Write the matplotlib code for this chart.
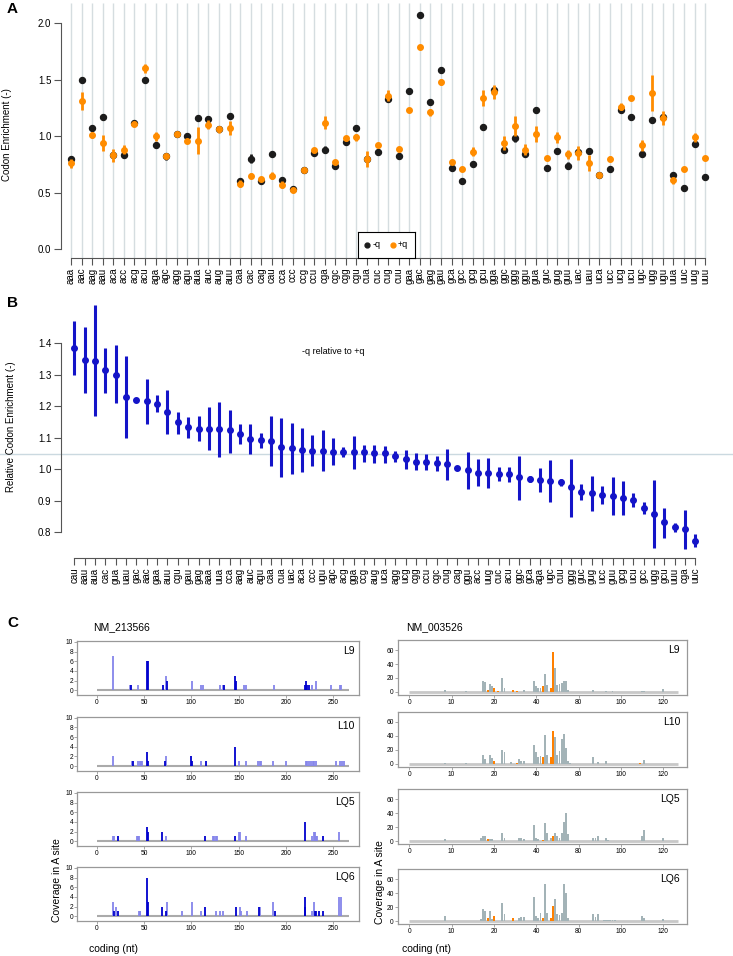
import matplotlib
matplotlib.use('Agg')
import matplotlib.pyplot as plt
import matplotlib.transforms as mtrans

plt.rcParams['font.family'] = ['Liberation Sans', 'DejaVu Sans']

# ---- panel A: codon enrichment, -q vs +q ----
codons_a = ['aaa', 'aac', 'aag', 'aau', 'aca', 'acc', 'acg', 'acu', 'aga', 'agc', 'agg', 'agu',
            'aua', 'auc', 'aug', 'auu', 'caa', 'cac', 'cag', 'cau', 'cca', 'ccc', 'ccg', 'ccu',
            'cga', 'cgc', 'cgg', 'cgu', 'cua', 'cuc', 'cug', 'cuu', 'gaa', 'gac', 'gag', 'gau',
            'gca', 'gcc', 'gcg', 'gcu', 'gga', 'ggc', 'ggg', 'ggu', 'gua', 'guc', 'gug', 'guu',
            'uac', 'uau', 'uca', 'ucc', 'ucg', 'ucu', 'ugc', 'ugg', 'ugu', 'uua', 'uuc', 'uug', 'uuu']
minus_q = [0.80, 1.50, 1.07, 1.17, 0.83, 0.83, 1.12, 1.50, 0.92, 0.82, 1.02, 1.00,
           1.16, 1.15, 1.06, 1.18, 0.60, 0.80, 0.60, 0.84, 0.61, 0.53, 0.70, 0.85,
           0.88, 0.74, 0.95, 1.07, 0.80, 0.86, 1.33, 0.82, 1.40, 2.07, 1.30, 1.59,
           0.72, 0.60, 0.75, 1.08, 1.41, 0.88, 0.98, 0.84, 1.23, 0.72, 0.87, 0.74,
           0.86, 0.87, 0.66, 0.71, 1.23, 1.17, 0.84, 1.14, 1.17, 0.66, 0.54, 0.93, 0.64]
minus_q_err = [.01, .01, .01, .01, .01, .01, .01, .01, .01, .03, .01, .01,
               .01, .01, .01, .01, .01, .04, .01, .02, .01, .01, .01, .01,
               .03, .01, .01, .01, .01, .01, .02, .01, .01, .01, .01, .01,
               .01, .01, .01, .01, .02, .01, .03, .01, .01, .01, .01, .03,
               .01, .01, .01, .01, .01, .02, .01, .02, .01, .01, .01, .01, .01]
plus_q = [0.76, 1.31, 1.01, 0.94, 0.83, 0.88, 1.11, 1.60, 1.00, 0.82, 1.02, 0.96,
          0.96, 1.10, 1.06, 1.07, 0.58, 0.65, 0.62, 0.65, 0.57, 0.52, 0.70, 0.88,
          1.12, 0.77, 0.98, 0.99, 0.80, 0.92, 1.36, 0.89, 1.23, 1.79, 1.21, 1.48,
          0.77, 0.71, 0.86, 1.34, 1.39, 0.94, 1.09, 0.88, 1.02, 0.81, 0.99, 0.84,
          0.85, 0.76, 0.66, 0.80, 1.26, 1.34, 0.92, 1.38, 1.16, 0.61, 0.71, 0.99, 0.81]
plus_q_err = [.04, .08, .03, .07, .06, .04, .01, .04, .04, .01, .01, .01,
              .12, .04, .03, .06, .03, .02, .01, .03, .03, .01, .01, .01,
              .06, .01, .02, .03, .07, .01, .05, .01, .02, .01, .03, .03,
              .01, .01, .04, .07, .06, .06, .09, .05, .07, .01, .05, .04,
              .06, .07, .01, .02, .03, .01, .05, .16, .06, .03, .01, .04, .01]

# ---- panel B: relative enrichment, sorted ----
codons_b = ['cau', 'aau', 'aua', 'cac', 'gua', 'uau', 'gac', 'aac', 'gaa', 'auu', 'cgu', 'gau',
            'gag', 'aaa', 'uua', 'cca', 'aag', 'auc', 'agu', 'caa', 'cua', 'uac', 'aca', 'ccc',
            'ugu', 'agc', 'acg', 'gga', 'ccg', 'aug', 'uca', 'agg', 'ucg', 'cgg', 'ccu', 'cgc',
            'cug', 'cag', 'ggu', 'acc', 'uug', 'cuc', 'acu', 'ggc', 'gca', 'aga', 'ugc', 'cuu',
            'ggg', 'guc', 'gug', 'ucc', 'guu', 'gcg', 'ucu', 'gcc', 'ugg', 'gcu', 'uuu', 'cga', 'uuc']
rel = [1.386, 1.347, 1.344, 1.315, 1.300, 1.230, 1.220, 1.215, 1.206, 1.180, 1.149, 1.134,
       1.129, 1.129, 1.126, 1.123, 1.111, 1.095, 1.092, 1.090, 1.070, 1.068, 1.061, 1.059,
       1.058, 1.056, 1.055, 1.053, 1.053, 1.050, 1.050, 1.043, 1.032, 1.024, 1.024, 1.019,
       1.016, 1.005, 0.996, 0.989, 0.989, 0.985, 0.984, 0.974, 0.968, 0.965, 0.964, 0.959,
       0.942, 0.928, 0.924, 0.917, 0.915, 0.908, 0.903, 0.877, 0.859, 0.831, 0.815, 0.810, 0.772]
rel_lo = [1.300, 1.243, 1.170, 1.241, 1.210, 1.098, 1.220, 1.144, 1.180, 1.111, 1.113, 1.100,
          1.089, 1.061, 1.038, 1.051, 1.079, 1.049, 1.067, 1.011, 0.975, 0.985, 0.990, 1.011,
          0.993, 1.013, 1.040, 1.000, 1.024, 1.019, 1.018, 1.024, 1.000, 0.996, 0.997, 0.993,
          0.966, 1.005, 0.938, 0.945, 0.941, 0.962, 0.958, 0.903, 0.959, 0.926, 0.895, 0.948,
          0.849, 0.903, 0.868, 0.888, 0.853, 0.853, 0.881, 0.858, 0.751, 0.783, 0.799, 0.748, 0.754]
rel_hi = [1.470, 1.450, 1.520, 1.385, 1.393, 1.358, 1.220, 1.286, 1.234, 1.250, 1.183, 1.167,
          1.169, 1.196, 1.212, 1.188, 1.144, 1.142, 1.116, 1.169, 1.164, 1.148, 1.132, 1.108,
          1.123, 1.100, 1.069, 1.104, 1.078, 1.077, 1.075, 1.058, 1.060, 1.051, 1.049, 1.042,
          1.063, 1.005, 1.053, 1.032, 1.034, 1.006, 1.008, 1.042, 0.979, 1.005, 1.030, 0.968,
          1.032, 0.952, 0.977, 0.947, 0.975, 0.962, 0.924, 0.897, 0.965, 0.878, 0.829, 0.871, 0.793]
rel_ref = 1.049

# ---- panel C: A-site coverage, (position, count) ----
samples = ['L9', 'L10', 'LQ5', 'LQ6']
nm1_dark = [
    [(36.6, 1), (53.5, 6), (54.5, 6), (70.4, 1), (74.3, 2), (134.9, 1), (146.5, 3), (147.5, 2),
     (219.7, 1), (220.8, 2), (222.5, 1), (224, 1)],
    [(38.7, 1), (53.2, 3), (54.6, 1), (71.8, 1), (100, 2), (101, 1), (115.8, 1), (146.5, 4)],
    [(22.2, 1), (53.5, 3), (54.6, 2), (69.4, 2), (114.8, 1), (146.5, 1), (220.4, 4), (239.4, 1)],
    [(18, 1), (22.9, 1), (53.5, 8), (54.6, 3), (69.4, 2), (72.9, 1), (114.8, 2), (147.5, 2),
     (171.5, 2), (188, 1), (219.7, 2), (220.4, 4), (230.6, 1), (231.7, 1), (234.5, 1), (239.4, 1)],
]
nm1_light = [
    [(16.9, 7), (34.9, 1), (43.7, 1), (72.9, 3), (101, 2), (110, 1), (112.7, 1), (130.6, 1),
     (133.5, 1), (155.3, 1), (158, 1), (187, 1), (227.5, 1), (231.3, 2), (247, 1), (257, 1), (258.5, 1)],
    [(16.9, 2), (37, 1), (44, 1), (45.2, 1), (46.4, 1), (47.5, 1), (73.2, 2), (110, 1), (150.4, 1),
     (158, 1), (170.8, 1), (172, 1), (173.2, 1), (186.6, 1), (199.6, 1), (220.8, 1), (222.5, 1),
     (224.6, 1), (226.7, 1), (228.1, 1), (229.5, 1), (231.3, 1), (253, 1), (257, 1), (258.8, 1), (261, 1)],
    [(16.9, 1), (18, 1), (42.6, 1), (43.7, 1), (44.7, 1), (73.2, 1), (123, 1), (124.3, 1), (125.5, 1),
     (126.8, 1), (150.7, 2), (151.8, 2), (157.4, 1), (227.8, 1), (229.6, 2), (230.6, 2), (231.5, 1),
     (232.4, 1), (256, 2)],
    [(16.9, 3), (20.8, 2), (44.4, 1), (45.2, 1), (46, 1), (73.9, 3), (89.8, 1), (101, 3), (110, 1),
     (125.7, 1), (130, 1), (133.5, 1), (151, 2), (152.8, 1), (158.5, 1), (172.5, 2), (186.6, 3),
     (227.8, 1), (229.6, 3), (256, 4), (257.7, 4)],
]
nm2_gray = [
    [(17, 3), (27, 2), (35, 16), (36, 14), (38, 12), (39, 8), (44, 20), (45, 6), (54, 3), (59, 15),
     (60, 8), (61, 6), (62, 5), (64, 26), (65, 10), (69, 34), (70, 10), (71, 12), (72, 13), (73, 16),
     (74, 16), (75, 3), (87, 3), (93, 1), (96, 1), (110, 1), (111, 2), (120, 4)],
    [(17, 1), (27, 1), (35, 13), (36, 7), (38, 13), (39, 8), (44, 19), (45, 16), (48, 3), (52, 6),
     (53, 4), (54, 4), (59, 26), (60, 17), (61, 10), (62, 11), (64, 41), (65, 12), (69, 38), (70, 12),
     (71, 18), (72, 36), (73, 42), (74, 22), (75, 4), (76, 1), (87, 10), (89, 2), (93, 4), (111, 5)],
    [(17, 3), (21, 1), (34, 4), (35, 8), (36, 8), (38, 3), (39, 3), (44, 12), (45, 4), (52, 5),
     (53, 4), (54, 3), (59, 23), (60, 5), (61, 3), (64, 26), (65, 12), (67, 4), (69, 12), (70, 8),
     (71, 5), (72, 12), (73, 28), (74, 41), (75, 10), (87, 5), (88, 4), (89, 8), (93, 4), (94, 2),
     (96, 1), (97, 1), (110, 8), (111, 16), (120, 4)],
    [(15, 1), (17, 7), (22, 1), (27, 1), (34, 3), (35, 18), (36, 15), (38, 15), (39, 3), (44, 26),
     (45, 11), (52, 4), (53, 6), (54, 6), (59, 35), (60, 7), (61, 5), (62, 12), (64, 53), (65, 12),
     (69, 32), (70, 11), (71, 9), (72, 12), (73, 53), (74, 41), (75, 5), (87, 10), (88, 6), (89, 10),
     (92, 2), (93, 2), (94, 2), (95, 2), (96, 2), (97, 2), (110, 8), (111, 5), (120, 3)],
]
nm2_orange = [
    [(37, 3), (40, 5), (42, 2), (49, 3), (51, 2), (63, 8), (67, 5), (68, 57)],
    [(40, 4), (51, 1), (63, 9), (67, 9), (68, 47), (109, 1)],
    [(37, 3), (48, 1), (63, 2), (68, 8), (109, 1)],
    [(37, 4), (40, 8), (49, 4), (51, 1), (63, 4), (67, 5), (68, 22), (121, 1)],
]
nm2_xticklabels = ['0', '10', '20', '40', '80', '100', '120']

W, H = 733, 956
fig = plt.figure(figsize=(W / 100, H / 100), dpi=100)


def add_box(l, t, r, b):
    # axes from pixel edges
    return fig.add_axes([l / W, 1 - b / H, (r - l) / W, (b - t) / H])


def ftext(px, py, s, **kw):
    fig.text(px / W, 1 - py / H, s, **kw)


axis_col = '#555555'

# ---------- A ----------
axA = add_box(61, 3, 715, 257.7)
xa = list(range(len(codons_a)))
axA.set_xlim(-0.946, 60.93)
axA.set_ylim(-0.077, 2.18)
axA.vlines(xa, -0.077, 2.18, color='#d5dde0', lw=1, zorder=0)
axA.errorbar(xa, minus_q, yerr=minus_q_err, fmt='o', color='#1c1c1c', ms=4.3,
             elinewidth=2, capsize=0, zorder=3)
axA.errorbar(xa, plus_q, yerr=plus_q_err, fmt='o', color='#ff8c00', ms=4,
             elinewidth=2, capsize=0, zorder=4)
for s in ['top', 'right']:
    axA.spines[s].set_visible(False)
axA.spines['left'].set_bounds(0, 2)
axA.spines['bottom'].set_bounds(0, 60)
for s in ['left', 'bottom']:
    axA.spines[s].set_color(axis_col)
axA.set_yticks([0, 0.5, 1.0, 1.5, 2.0])
axA.set_yticklabels(['0.0', '0.5', '1.0', '1.5', '2.0'])
axA.set_xticks(xa)
axA.set_xticklabels(codons_a, rotation=90)
axA.tick_params(length=5, width=0.8, color=axis_col, labelsize=7, pad=2)
axA.patch.set_alpha(0)
ftext(7, 135, 'Codon Enrichment (-)', rotation=90, fontsize=7, ha='center', va='center')
ftext(12, 9, 'A', fontsize=11, weight='bold', ha='center', va='center')

leg = add_box(358, 232, 415, 257.7)
leg.set_xlim(0, 1)
leg.set_ylim(0, 1)
leg.set_xticks([])
leg.set_yticks([])
for s in leg.spines.values():
    s.set_linewidth(0.8)
leg.plot([0.16], [0.5], 'o', color='#1c1c1c', ms=3.5)
leg.text(0.25, 0.5, '-q', fontsize=6.5, va='center')
leg.plot([0.61], [0.5], 'o', color='#ff8c00', ms=3.5)
leg.text(0.70, 0.5, '+q', fontsize=6.5, va='center')

# ---------- B ----------
axB = add_box(61, 300, 715, 558)
xb = list(range(len(codons_b)))
axB.set_xlim(-1.285, 61.9)
axB.set_ylim(0.718, 1.537)
lower = [m - lo for m, lo in zip(rel, rel_lo)]
upper = [hi - m for m, hi in zip(rel, rel_hi)]
axB.errorbar(xb, rel, yerr=[lower, upper], fmt='o', color='#1414c8', ms=4,
             elinewidth=2.2, capsize=0, zorder=3)
tr = mtrans.blended_transform_factory(fig.transFigure, axB.transData)
axB.plot([0, 1], [rel_ref, rel_ref], color='#cbd9e0', lw=1, transform=tr,
         clip_on=False, zorder=1)
for s in ['top', 'right']:
    axB.spines[s].set_visible(False)
axB.spines['left'].set_bounds(0.8, 1.4)
axB.spines['bottom'].set_bounds(0, 60)
for s in ['left', 'bottom']:
    axB.spines[s].set_color(axis_col)
axB.set_yticks([0.8, 0.9, 1.0, 1.1, 1.2, 1.3, 1.4])
axB.set_xticks(xb)
axB.set_xticklabels(codons_b, rotation=90)
axB.tick_params(length=5, width=0.8, color=axis_col, labelsize=7, pad=2)
axB.patch.set_alpha(0)
ftext(11, 427, 'Relative Codon Enrichment (-)', rotation=90, fontsize=7, ha='center', va='center')
ftext(302, 351, '-q relative to +q', fontsize=6.5, va='center')
ftext(13, 303, 'B', fontsize=11, weight='bold', ha='center', va='center')

# ---------- C ----------
ftext(13, 623, 'C', fontsize=11, weight='bold', ha='center', va='center')
ftext(92.7, 627, 'NM_213566', fontsize=7.5, va='center')
ftext(405.7, 627, 'NM_003526', fontsize=7.5, va='center')

box_col = '#999999'
left_tops = [641, 716.7, 792, 867]
right_tops = [640, 711.7, 789.3, 869.3]

for i, name in enumerate(samples):
    ax = add_box(77.3, left_tops[i], 359, left_tops[i] + 54)
    ax.set_xlim(-20.5, 277)
    ax.set_ylim(-0.97, 10.2)
    ax.hlines(0, 0, 266, color='#aaaaaa', lw=1.5, zorder=1)
    for pts, col in [(nm1_light[i], '#8585ea'), (nm1_dark[i], '#0000cd')]:
        px = [p for p, c in pts]
        hc = [c for p, c in pts]
        ax.vlines(px, 0, hc, color=col, lw=1.3, zorder=2)
    ax.set_xticks([0, 50, 100, 150, 200, 250])
    ax.set_yticks([0, 2, 4, 6, 8, 10])
    ax.tick_params(length=2, width=0.6, color=box_col, labelsize=4.8, pad=1)
    for s in ax.spines.values():
        s.set_color(box_col)
        s.set_linewidth(0.9)
    ax.text(0.985, 0.82, name, transform=ax.transAxes, ha='right', va='center', fontsize=7.5)

    ax2 = add_box(398, right_tops[i], 687, right_tops[i] + 55)
    ax2.set_xlim(-5.3, 131.2)
    ax2.set_ylim(-4.3, 74.3)
    ax2.hlines(0, 0, 127, color='#c8c8c8', lw=2, zorder=1)
    for pts, col in [(nm2_gray[i], '#a3b3b7'), (nm2_orange[i], '#ff8000')]:
        px = [p for p, c in pts]
        hc = [c for p, c in pts]
        ax2.bar(px, hc, width=0.9, color=col, linewidth=0, zorder=2)
    ax2.set_xticks([0, 20, 40, 60, 80, 100, 120])
    ax2.set_xticklabels(nm2_xticklabels)
    ax2.set_yticks([0, 20, 40, 60])
    ax2.tick_params(length=2, width=0.6, color=box_col, labelsize=4.8, pad=1)
    for s in ax2.spines.values():
        s.set_color(box_col)
        s.set_linewidth(0.9)
    ax2.text(0.976, 0.82, name, transform=ax2.transAxes, ha='right', va='center', fontsize=7.5)

ftext(57, 880, 'Coverage in A site', rotation=90, fontsize=7.5, ha='center', va='center')
ftext(380, 882, 'Coverage in A site', rotation=90, fontsize=7.5, ha='center', va='center')
ftext(89, 949, 'coding (nt)', fontsize=7.5, va='center')
ftext(402, 949, 'coding (nt)', fontsize=7.5, va='center')

fig.savefig('out.png', dpi=100)
